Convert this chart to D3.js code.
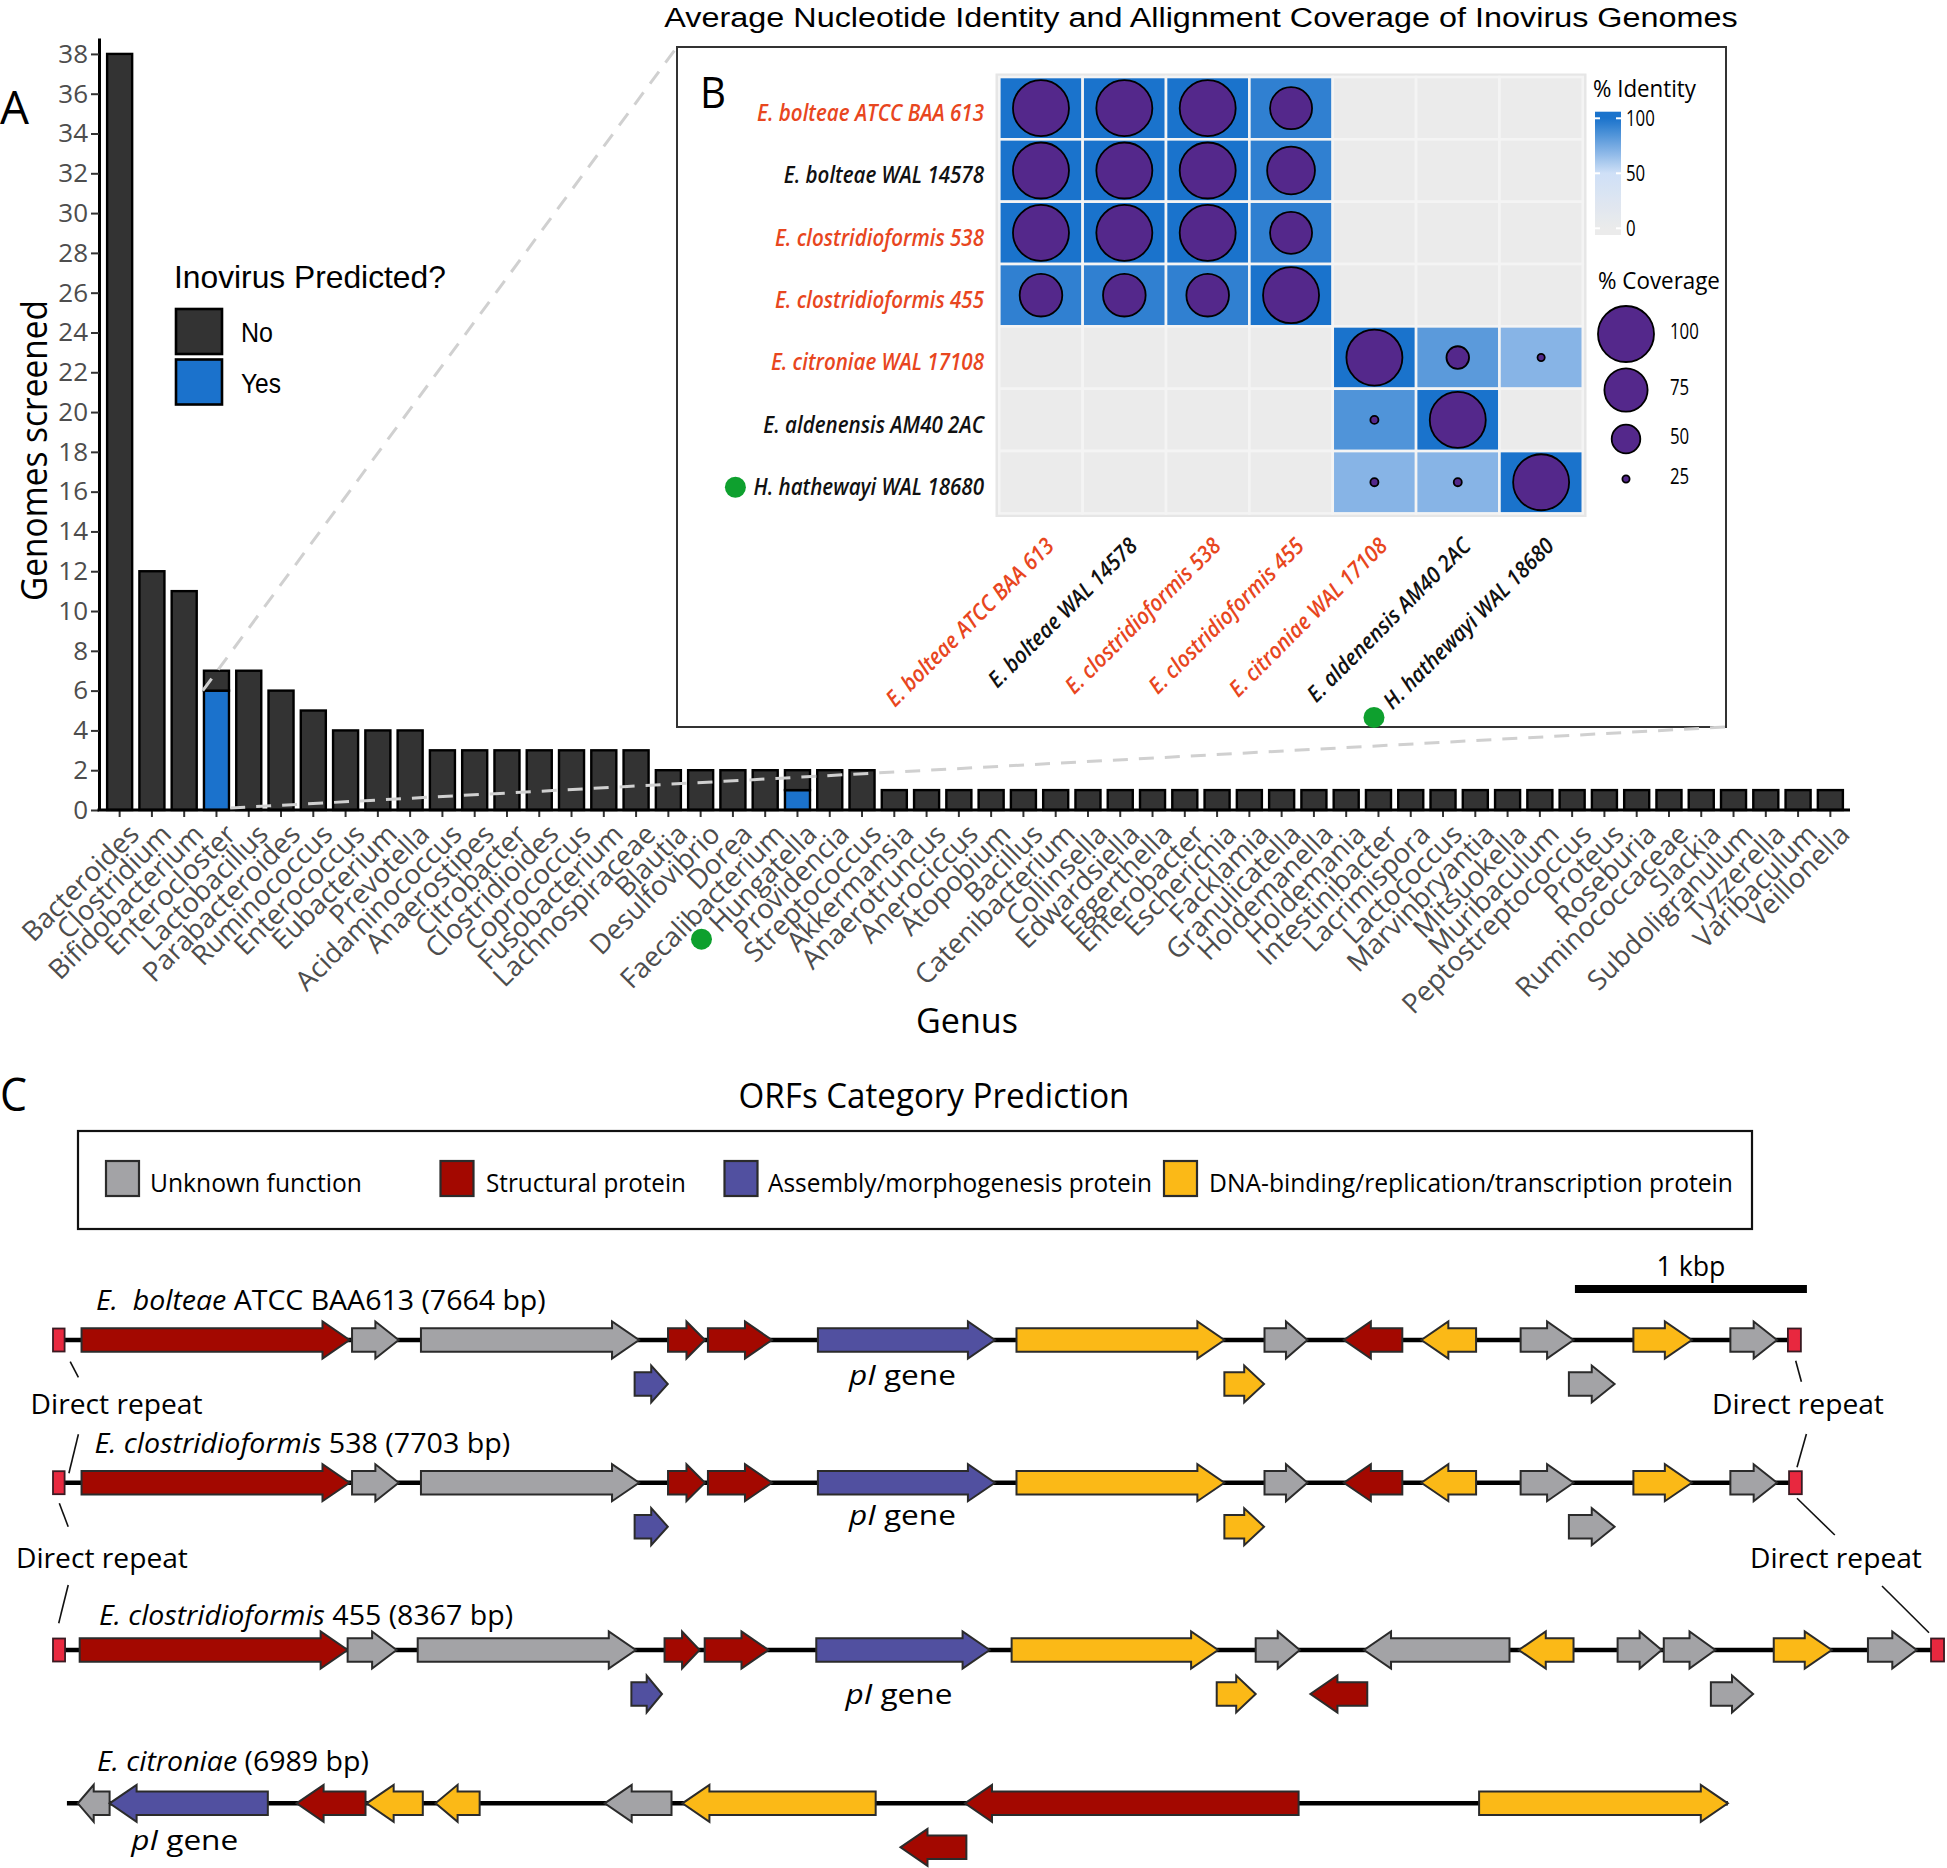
<!DOCTYPE html>
<html><head><meta charset="utf-8">
<script src="https://cdn.jsdelivr.net/npm/d3@7"></script>
<style>body{margin:0;background:#fff} svg{display:block;background:#fff} text{white-space:pre}</style>
</head><body>
<svg id="fig" width="1947" height="1868"></svg>
<script>
// ================= DATA =================
// Panel A
const genera = ["Bacteroides","Clostridium","Bifidobacterium","Enterocloster","Lactobacillus","Parabacteroides","Ruminococcus","Enterococcus","Eubacterium","Prevotella","Acidaminococcus","Anaerostipes","Citrobacter","Clostridioides","Coprococcus","Fusobacterium","Lachnospiraceae","Blautia","Desulfovibrio","Dorea","Faecalibacterium","Hungatella","Providencia","Streptococcus","Akkermansia","Anaerotruncus","Anerociccus","Atopobium","Bacillus","Catenibacterium","Collinsella","Edwardsiella","Eggerthella","Enterobacter","Escherichia","Facklamia","Granulicatella","Holdemanella","Holdemania","Intestinibacter","Lacrimispora","Lactococcus","Marvinbryantia","Mitsuokella","Muribaculum","Peptostreptococcus","Proteus","Roseburia","Ruminococcaceae","Slackia","Subdoligranulum","Tyzzerella","Varibaculum","Veillonella"];
const countNo  = [38,12,11,1,7,6,5,4,4,4,3,3,3,3,3,3,3,2,2,2,2,1,2,2,1,1,1,1,1,1,1,1,1,1,1,1,1,1,1,1,1,1,1,1,1,1,1,1,1,1,1,1,1,1];
const countYes = [0,0,0,6,0,0,0,0,0,0,0,0,0,0,0,0,0,0,0,0,0,1,0,0,0,0,0,0,0,0,0,0,0,0,0,0,0,0,0,0,0,0,0,0,0,0,0,0,0,0,0,0,0,0];
const yTicks = [0,2,4,6,8,10,12,14,16,18,20,22,24,26,28,30,32,34,36,38];
const predictedKeys = ["No","Yes"];
const markedGenus = "Hungatella";

// Panel B
const strains = ["E. bolteae ATCC BAA 613","E. bolteae WAL 14578","E. clostridioformis 538","E. clostridioformis 455","E. citroniae WAL 17108","E. aldenensis AM40 2AC","H. hathewayi WAL 18680"];
const strainHighlighted = [true,false,true,true,true,false,false];
const markedStrain = "H. hathewayi WAL 18680";
const identity = [
  [100,100,100,94,0,0,0],
  [100,100,100,94,0,0,0],
  [100,100,100,94,0,0,0],
  [94,94,94,100,0,0,0],
  [0,0,0,0,100,82,70],
  [0,0,0,0,85,100,0],
  [0,0,0,0,70,70,100]];
const coverage = [
  [100,100,100,73,0,0,0],
  [100,100,100,84,0,0,0],
  [100,100,100,73,0,0,0],
  [74,74,74,100,0,0,0],
  [0,0,0,0,100,43,25],
  [0,0,0,0,26,100,0],
  [0,0,0,0,26,26,100]];
const identityTicks = [0,50,100];
const coverageTicks = [100,75,50,25];

// Panel C  (ORFs: [start bp, end bp, strand, category, lane])
const orfCategories = ["Unknown function","Structural protein","Assembly/morphogenesis protein","DNA-binding/replication/transcription protein"];
const genomeSpecies = ["E.  bolteae","E. clostridioformis","E. clostridioformis","E. citroniae"];
const genomeStrain  = [" ATCC BAA613"," 538"," 455",""];
const genomeLength  = [7664,7703,8367,6989];
const backbones = [[25,7506],[25,7510],[26,8123],[60,7219]];
const repeats1 = [[0,50],[7478,7534]];
const repeats2 = [[0,50],[7483,7538]];
const repeats3 = [[0,52],[8095,8151]];
const repeats4 = [];
const orfs1 = [[123,1278,1,1,0],[1289,1490,1,0,0],[1586,2526,1,0,0],[2651,2810,1,1,0],[2823,3099,1,1,0],[3297,4060,1,2,0],[4153,5049,1,3,0],[5222,5407,1,0,0],[5564,5816,-1,1,0],[5898,6134,-1,3,0],[6326,6554,1,0,0],[6812,7064,1,3,0],[7230,7431,1,0,0],[2507,2650,1,2,1],[5049,5220,1,3,1],[6534,6731,1,0,1]];
const orfs2 = [[123,1278,1,1,0],[1289,1490,1,0,0],[1586,2526,1,0,0],[2651,2810,1,1,0],[2823,3099,1,1,0],[3297,4060,1,2,0],[4153,5049,1,3,0],[5222,5407,1,0,0],[5564,5816,-1,1,0],[5898,6134,-1,3,0],[6326,6554,1,0,0],[6812,7064,1,3,0],[7230,7431,1,0,0],[2507,2650,1,2,1],[5049,5220,1,3,1],[6534,6731,1,0,1]];
const orfs3 = [[115,1270,1,1,0],[1270,1481,1,0,0],[1572,2512,1,0,0],[2636,2787,1,1,0],[2809,3084,1,1,0],[3290,4037,1,2,0],[4132,5022,1,3,0],[5184,5374,1,0,0],[5651,6278,-1,0,0],[6318,6554,-1,3,0],[6744,6934,1,0,0],[6943,7165,1,0,0],[7417,7667,1,3,0],[7823,8033,1,0,0],[2493,2625,1,2,1],[5016,5184,1,3,1],[5420,5665,-1,1,1],[7146,7328,1,0,1]];
const orfs4 = [[107,244,-1,0,0],[244,926,-1,2,0],[1050,1347,-1,1,0],[1352,1594,-1,3,0],[1649,1839,-1,3,0],[2378,2666,-1,0,0],[2713,3546,-1,3,0],[3931,5369,-1,1,0],[6147,7219,1,3,0],[3653,3937,-1,1,1]];
const scaleBarBp = [6560,7560];

// ================= STYLE / LAYOUT =================
const FONT = "'Open Sans', sans-serif";
const ARIAL = "'Liberation Sans', Arial, sans-serif";
const svg = d3.select("#fig");

function fitText(parent, o) {
  const g = parent.append("g").attr("transform", `translate(${o.x},${o.y})` + (o.rotate ? ` rotate(${o.rotate})` : ""));
  const t = g.append("text").attr("font-family", o.family || FONT).attr("font-size", o.size)
    .attr("fill", o.fill || "#000").attr("text-anchor", o.anchor || "start");
  if (o.dy) t.attr("dy", o.dy);
  if (o.italic) t.attr("font-style", "italic");
  if (o.weight) t.attr("font-weight", o.weight);
  (o.parts || [{t: o.text}]).forEach(p => { const s = t.append("tspan").text(p.t); if (p.italic) s.attr("font-style", "italic"); });
  const w = t.node().getComputedTextLength();
  let sx = o.sx || 1;
  if (o.width && w > 0) sx = o.width / w;
  t.attr("transform", `scale(${sx},1)`);
  return {g, t, w, sx};
}

// ================= PANEL A =================
const gA = svg.append("g");
const xA = d3.scaleBand().domain(genera).range([103.5, 1846.5]).paddingInner(0.15).paddingOuter(0.075);
const yA = d3.scaleLinear().domain([0, 38.8]).range([810, 38]);
const fillA = d3.scaleOrdinal().domain(["yes","no"]).range(["#1b72cc","#333333"]);

const stackRows = genera.map((g, i) => ({genus: g, yes: countYes[i], no: countNo[i]}));
const series = d3.stack().keys(["yes","no"])(stackRows);
gA.selectAll("g.ser").data(series).join("g").attr("class","ser").attr("fill", d => fillA(d.key))
  .selectAll("rect").data(d => d.filter(v => v[1] > v[0])).join("rect")
  .attr("x", d => xA(d.data.genus) + 1.2).attr("width", xA.bandwidth() - 2.4)
  .attr("y", d => yA(d[1])).attr("height", d => yA(d[0]) - yA(d[1]))
  .attr("stroke", "#000").attr("stroke-width", 2.4);

const yAxis = gA.append("g").attr("transform", "translate(99,0)")
  .call(d3.axisLeft(yA).tickValues(yTicks).tickSize(8).tickSizeOuter(0).tickPadding(3));
yAxis.select(".domain").attr("stroke", "#000").attr("stroke-width", 3);
yAxis.selectAll(".tick line").attr("stroke", "#333").attr("stroke-width", 2);
yAxis.selectAll(".tick text").attr("font-family", FONT).attr("font-size", 26).attr("fill", "#4d4d4d");

const xAxis = gA.append("g").attr("transform", "translate(0,810)")
  .call(d3.axisBottom(xA).tickSize(7).tickSizeOuter(0));
xAxis.select(".domain").remove();
xAxis.selectAll(".tick line").attr("stroke", "#333").attr("stroke-width", 2);
xAxis.selectAll(".tick text").attr("font-family", FONT).attr("font-size", 27.5).attr("fill", "#4d4d4d")
  .attr("text-anchor", "end").attr("x", 0).attr("y", 0).attr("dy", "0.72em")
  .attr("transform", "translate(7,12) rotate(-45)");
gA.append("line").attr("x1", 97.5).attr("x2", 1850).attr("y1", 810).attr("y2", 810).attr("stroke", "#000").attr("stroke-width", 3);

// green marker before Hungatella label
{
  const tick = xAxis.selectAll(".tick").filter(d => d === markedGenus);
  const L = tick.select("text").node().getComputedTextLength();
  const cx = xA(markedGenus) + xA.bandwidth() / 2 + 7, cy = 822;
  const a = Math.PI / 4, lx = -L - 17, ly = 10;
  gA.append("circle").attr("cx", cx + lx * Math.cos(a) + ly * Math.sin(a)).attr("cy", cy - lx * Math.sin(a) + ly * Math.cos(a))
    .attr("r", 10.5).attr("fill", "#0ea02e");
}

fitText(gA, {x: 47, y: 450.5, rotate: -90, size: 36, text: "Genomes screened", anchor: "middle", width: 301});
fitText(gA, {x: 967, y: 1033, size: 35, text: "Genus", anchor: "middle", width: 102});
fitText(svg, {x: 0, y: 124, size: 46, text: "A", width: 29});

// legend A
const legA = svg.append("g");
fitText(legA, {x: 174, y: 288, size: 31, family: ARIAL, text: "Inovirus Predicted?", width: 272});
predictedKeys.forEach((k, i) => {
  legA.append("rect").attr("x", 176).attr("y", 309 + i * 50.5).attr("width", 46).attr("height", 45)
    .attr("fill", fillA(k === "Yes" ? "yes" : "no")).attr("stroke", "#000").attr("stroke-width", 2.6);
  fitText(legA, {x: 241, y: 342 + i * 50.5, size: 28, family: ARIAL, text: k, width: k === "No" ? 32 : 40});
});

// ================= PANEL B =================
const gB = svg.append("g");
gB.append("rect").attr("x", 677).attr("y", 47).attr("width", 1049).attr("height", 680)
  .attr("fill", "#fff").attr("stroke", "#333").attr("stroke-width", 2);

// zoom lines
const ent = "Enterocloster";
svg.append("line").attr("x1", xA(ent)).attr("y1", yA(6)).attr("x2", 677).attr("y2", 47)
  .attr("stroke", "#d0d0d0").attr("stroke-width", 3).attr("stroke-dasharray", "15,11");
svg.append("line").attr("x1", xA(ent) + xA.bandwidth()).attr("y1", yA(0) - 2).attr("x2", 1726).attr("y2", 727)
  .attr("stroke", "#d0d0d0").attr("stroke-width", 3).attr("stroke-dasharray", "15,11");

fitText(svg, {x: 1201, y: 27, size: 28, family: ARIAL, text: "Average Nucleotide Identity and Allignment Coverage of Inovirus Genomes", anchor: "middle", width: 1074});
fitText(gB, {x: 700, y: 107.5, size: 44, text: "B", width: 26});

const xB = d3.scaleBand().domain(strains).range([999.3, 1582.8]);
const yB = d3.scaleBand().domain(strains).range([77, 513.4]);
const idColor = d3.scaleLinear().domain([0, 50, 100]).range(["#ebebeb", "#cfe0f7", "#1a73cc"]);
const rCov = d3.scaleLinear().domain([25, 50, 75, 100]).range([3.6, 14.3, 21.6, 28]).clamp(true);

gB.append("rect").attr("x", 995.5).attr("y", 73.5).attr("width", 591).attr("height", 443.5).attr("fill", "#e6e6e6");
const cells = [];
strains.forEach((r, i) => strains.forEach((c, j) => cells.push({r, c, id: identity[i][j], cov: coverage[i][j]})));
gB.selectAll("rect.tile").data(cells).join("rect").attr("class", "tile")
  .attr("x", d => xB(d.c)).attr("y", d => yB(d.r)).attr("width", xB.bandwidth()).attr("height", yB.bandwidth())
  .attr("fill", d => d.id > 0 ? idColor(d.id) : "#ebebeb").attr("stroke", "#f4f4f4").attr("stroke-width", 2.6);
gB.selectAll("circle.cov").data(cells.filter(d => d.cov > 0)).join("circle").attr("class", "cov")
  .attr("cx", d => xB(d.c) + xB.bandwidth() / 2).attr("cy", d => yB(d.r) + yB.bandwidth() / 2)
  .attr("r", d => rCov(d.cov)).attr("fill", "#54288b").attr("stroke", "#000").attr("stroke-width", 1.8);

// row / column labels (italic)
const LBL = 22.5;
const probe = fitText(gB, {x: -1000, y: -1000, size: LBL, italic: true, weight: 600, text: strains[0], width: 227});
const sxB = probe.sx;
probe.g.remove();
strains.forEach((s, i) => {
  const col = strainHighlighted[i] ? "#e8461e" : "#111";
  const cy = yB(s) + yB.bandwidth() / 2 + 5;
  const r = fitText(gB, {x: 984, y: cy, size: LBL, italic: true, weight: 600, text: s, anchor: "end", dy: "0.35em", fill: col, sx: sxB});
  const cx = xB(s) + xB.bandwidth() / 2 + 3;
  const c = fitText(gB, {x: cx, y: 536, rotate: -45, size: LBL, italic: true, weight: 600, text: s, anchor: "end", dy: "0.72em", fill: col, sx: sxB});
  if (s === markedStrain) {
    const L = r.w * sxB;
    gB.append("circle").attr("cx", 984 - L - 18).attr("cy", cy).attr("r", 10.5).attr("fill", "#0ea02e");
    c.g.append("circle").attr("cx", -L - 18).attr("cy", 8).attr("r", 10.5).attr("fill", "#0ea02e");
  }
});

// identity colourbar
const cbY = d3.scaleLinear().domain([0, 100]).range([228.3, 118.3]);
const defs = svg.append("defs");
const grad = defs.append("linearGradient").attr("id", "idgrad").attr("x1", 0).attr("x2", 0).attr("y1", 1).attr("y2", 0);
const vLo = cbY.invert(235), vHi = cbY.invert(111.7);
d3.range(0, 1.0001, 0.05).forEach(t => {
  const v = Math.max(0, Math.min(100, vLo + t * (vHi - vLo)));
  grad.append("stop").attr("offset", t).attr("stop-color", idColor(v));
});
gB.append("rect").attr("x", 1595).attr("y", 111.7).attr("width", 26).attr("height", 123.3).attr("fill", "url(#idgrad)");
identityTicks.forEach(v => {
  gB.append("line").attr("x1", 1595).attr("x2", 1600).attr("y1", cbY(v)).attr("y2", cbY(v)).attr("stroke", "#fff").attr("stroke-width", 2);
  gB.append("line").attr("x1", 1616).attr("x2", 1621).attr("y1", cbY(v)).attr("y2", cbY(v)).attr("stroke", "#fff").attr("stroke-width", 2);
  fitText(gB, {x: 1626, y: cbY(v), size: 21, text: String(v), dy: "0.35em", sx: 0.8});
});
fitText(gB, {x: 1593, y: 97, size: 23, text: "% Identity", width: 103});
fitText(gB, {x: 1598, y: 289, size: 23, text: "% Coverage", width: 122});
const covLegY = [334, 390, 439, 479];
coverageTicks.forEach((v, i) => {
  gB.append("circle").attr("cx", 1626).attr("cy", covLegY[i]).attr("r", rCov(v)).attr("fill", "#54288b").attr("stroke", "#000").attr("stroke-width", 1.8);
  fitText(gB, {x: 1670, y: covLegY[i] - 2, size: 21, text: String(v), dy: "0.35em", sx: 0.8});
});

// ================= PANEL C =================
const gC = svg.append("g");
fitText(gC, {x: 0, y: 1111, size: 46, text: "C", width: 27});
fitText(gC, {x: 934, y: 1108, size: 34, text: "ORFs Category Prediction", anchor: "middle", width: 391});
const orfColor = d3.scaleOrdinal().domain([0, 1, 2, 3]).range(["#a3a3a6", "#a30800", "#5150a0", "#fbb917"]);
gC.append("rect").attr("x", 78).attr("y", 1131).attr("width", 1674).attr("height", 98).attr("fill", "#fff").attr("stroke", "#111").attr("stroke-width", 2.2);
const legSwX = [106, 440.5, 724.5, 1164], legTxtX = [150, 486, 768, 1209], legTxtW = [212, 200, 384, 524];
orfCategories.forEach((c, i) => {
  gC.append("rect").attr("x", legSwX[i]).attr("y", 1161).attr("width", 33).attr("height", 35).attr("fill", orfColor(i)).attr("stroke", "#2b2b2b").attr("stroke-width", 2.2);
  fitText(gC, {x: legTxtX[i], y: 1183, size: 26, text: c, dy: "0.35em", width: legTxtW[i]});
});

const xC = d3.scaleLinear().domain([0, 1000]).range([53, 285]);
gC.append("rect").attr("x", xC(scaleBarBp[0])).attr("width", xC(scaleBarBp[1]) - xC(scaleBarBp[0])).attr("y", 1285).attr("height", 8).attr("fill", "#000");
fitText(gC, {x: (xC(scaleBarBp[0]) + xC(scaleBarBp[1])) / 2, y: 1276, size: 27, text: "1 kbp", anchor: "middle", width: 69});

function arrowPath(x0, x1, strand, yc) {
  const len = x1 - x0, hl = Math.min(27, len * 0.5), b = 11.7, h = 18.5;
  if (strand > 0) return `M${x0},${yc - b}L${x1 - hl},${yc - b}L${x1 - hl},${yc - h}L${x1},${yc}L${x1 - hl},${yc + h}L${x1 - hl},${yc + b}L${x0},${yc + b}Z`;
  return `M${x1},${yc - b}L${x0 + hl},${yc - b}L${x0 + hl},${yc - h}L${x0},${yc}L${x0 + hl},${yc + h}L${x0 + hl},${yc + b}L${x1},${yc + b}Z`;
}

const trackY = [1340, 1482.7, 1650, 1803.3];
const labelY = [1310, 1453, 1625, 1771];
const labelX = [96, 94.4, 98.9, 97];
const labelW = [450, 416, 414.5, 272];
const pILabelDy = [45, 42, 54, 47];
const allOrfs = [orfs1, orfs2, orfs3, orfs4];
const allRepeats = [repeats1, repeats2, repeats3, repeats4];

allOrfs.forEach((orfs, t) => {
  const g = gC.append("g");
  const yc = trackY[t];
  g.append("line").attr("x1", xC(backbones[t][0])).attr("x2", xC(backbones[t][1])).attr("y1", yc).attr("y2", yc).attr("stroke", "#000").attr("stroke-width", 4.5);
  g.selectAll("path.orf").data(orfs).join("path").attr("class", "orf")
    .attr("d", d => arrowPath(xC(d[0]), xC(d[1]), d[2], yc + d[4] * 44))
    .attr("fill", d => orfColor(d[3])).attr("stroke", "#2b2b2b").attr("stroke-width", 2).attr("stroke-linejoin", "miter");
  g.selectAll("rect.rep").data(allRepeats[t]).join("rect").attr("class", "rep")
    .attr("x", d => xC(d[0])).attr("width", d => xC(d[1]) - xC(d[0])).attr("y", yc - 11.5).attr("height", 23)
    .attr("fill", "#e8283f").attr("stroke", "#3a1a22").attr("stroke-width", 1.8);
  fitText(g, {x: labelX[t], y: labelY[t], size: 27, parts: [{t: genomeSpecies[t], italic: true}, {t: genomeStrain[t] + " (" + genomeLength[t] + " bp)"}], width: labelW[t]});
  const pI = orfs.find(d => d[3] === 2 && d[4] === 0);
  fitText(g, {x: xC((pI[0] + pI[1]) / 2) - 4, y: yc + pILabelDy[t], size: 28, parts: [{t: "pI", italic: true}, {t: " gene"}], anchor: "middle", width: 107});
});

// direct repeat annotations
const drLabels = [[30.6, 1414], [1712, 1414], [16, 1568], [1750, 1568]];
drLabels.forEach(p => fitText(gC, {x: p[0], y: p[1], size: 27, text: "Direct repeat", width: 172}));
const drLines = [[70.2,1361.7,78.4,1377.3],[78.4,1434.3,68.9,1473.3],[59.3,1503.3,68.2,1526.7],[68.2,1585,58.7,1623.3],
                 [1795.7,1360.7,1801.4,1381.7],[1806.4,1434,1797,1467.3],[1797,1498.3,1834.8,1535],[1882,1586,1929,1632.7]];
drLines.forEach(l => gC.append("line").attr("x1", l[0]).attr("y1", l[1]).attr("x2", l[2]).attr("y2", l[3]).attr("stroke", "#111").attr("stroke-width", 1.6));
</script>
</body></html>
